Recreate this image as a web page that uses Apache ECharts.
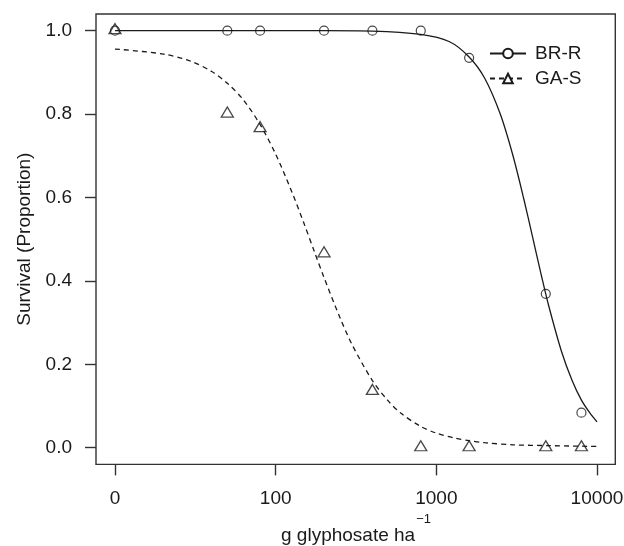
<!DOCTYPE html>
<html><head><meta charset="utf-8">
<script src="https://cdn.jsdelivr.net/npm/echarts@6/dist/echarts.min.js"></script>
<style>html,body{margin:0;padding:0;background:#fff}#c{width:624px;height:546px}</style>
</head><body><div id="c"></div>
<script>
// observed doses (g glyphosate / ha) and survival proportions
const doses = [0, 50, 80, 200, 400, 800, 1600, 4800, 8000];
const brR = [1, 1, 1, 1, 1, 1, 0.935, 0.369, 0.084];
const gaS = [1, 0.80, 0.765, 0.465, 0.135, 0, 0, 0, 0];

// fitted curves
const brCurveDose = [0, 50, 100, 200, 400, 800, 1200, 1600, 2000, 2500, 3000, 3500, 4000, 4500, 5000, 6000, 7000, 8000, 9000, 10000];
const brCurve = [1.0, 1.0, 1.0, 1.0, 0.999, 0.991, 0.974, 0.937, 0.886, 0.80, 0.70, 0.597, 0.50, 0.414, 0.341, 0.232, 0.161, 0.114, 0.084, 0.062];
const gaCurveDose = [0, 20, 30, 40, 50, 63, 80, 100, 125, 150, 175, 200, 250, 300, 400, 500, 600, 800, 1000, 1300, 1600, 2000, 3000, 5000, 10000];
const gaCurve = [0.956, 0.944, 0.926, 0.902, 0.874, 0.834, 0.775, 0.704, 0.617, 0.538, 0.468, 0.408, 0.314, 0.246, 0.161, 0.113, 0.083, 0.051, 0.035, 0.023, 0.017, 0.012, 0.007, 0.005, 0.003];

const seriesNames = ['BR-R', 'GA-S'];
const xTickValues = [10, 100, 1000, 10000];
const xTickLabels = ['0', '100', '1000', '10000'];
const yTickValues = [0, 0.2, 0.4, 0.6, 0.8, 1.0];
const ZERO_DOSE_POS = 10; // dose 0 is drawn at the first decade of the log axis

const pos = d => d === 0 ? ZERO_DOSE_POS : d;
const pairs = (xs, ys) => xs.map((x, i) => [pos(x), ys[i]]);

const FONT = "'Liberation Sans', Arial, sans-serif";
const INK = '#1a1a1a';
const FRAME = '#333';

const chart = echarts.init(document.getElementById('c'), null, {renderer: 'canvas'});
chart.setOption({
  animation: false,
  backgroundColor: '#fff',
  textStyle: {fontFamily: FONT},
  grid: [
    {left: 115, right: 27, top: 14, bottom: 81.6, show: false, containLabel: false, outerBoundsMode: 'none'},
    {left: 96, right: 8.7, top: 14, bottom: 81.6, show: true, containLabel: false, outerBoundsMode: 'none',
     borderColor: FRAME, borderWidth: 1.4, backgroundColor: 'transparent'}
  ],
  xAxis: [
    {
      gridIndex: 0, type: 'log', logBase: 10, min: 10, max: 10000,
      position: 'bottom',
      axisLine: {show: false, onZero: false},
      axisTick: {show: true, inside: false, length: 11, lineStyle: {color: FRAME, width: 1.4}},
      splitLine: {show: false},
      axisLabel: {
        fontFamily: FONT, fontSize: 19, color: INK, margin: 25,
        formatter: v => {
          const i = xTickValues.findIndex(t => Math.abs(Math.log10(t) - Math.log10(v)) < 1e-6);
          return i >= 0 ? xTickLabels[i] : '';
        }
      },
      name: '{a|g glyphosate ha}{sup|\u22121}',
      nameLocation: 'middle', nameGap: 38,
      nameTextStyle: {
        rich: {
          a: {fontFamily: FONT, fontSize: 19, color: INK},
          sup: {fontFamily: FONT, fontSize: 13, color: INK, padding: [0, 0, 32, 1]}
        }
      }
    },
    {gridIndex: 1, type: 'value', min: 0, max: 1, show: false}
  ],
  yAxis: [
    {gridIndex: 0, type: 'value', min: -0.04, max: 1.04, show: false},
    {
      gridIndex: 1, type: 'value', min: -0.04, max: 1.04,
      axisLine: {show: false},
      axisTick: {show: true, length: 11, customValues: yTickValues, lineStyle: {color: FRAME, width: 1.4}},
      splitLine: {show: false},
      axisLabel: {
        customValues: yTickValues,
        fontFamily: FONT, fontSize: 19, color: INK, margin: 24,
        formatter: v => v.toFixed(1)
      },
      name: 'Survival (Proportion)',
      nameLocation: 'middle', nameGap: 62,
      nameTextStyle: {fontFamily: FONT, fontSize: 19, color: INK}
    }
  ],
  legend: {
    orient: 'vertical', left: 489, top: 44, padding: 0,
    itemWidth: 36, itemHeight: 12, itemGap: 6,
    data: seriesNames,
    itemStyle: {borderWidth: 1},
    textStyle: {fontFamily: FONT, fontSize: 19, color: INK, lineHeight: 19, padding: [0, 0, 0, 4]}
  },
  series: [
    {
      name: seriesNames[0], type: 'line', xAxisIndex: 0, yAxisIndex: 0,
      data: pairs(brCurveDose, brCurve), smooth: 0.3,
      symbol: 'emptyCircle', symbolSize: 9, showSymbol: false,
      lineStyle: {color: INK, width: 1.3, type: 'solid'},
      itemStyle: {color: INK, borderColor: INK, borderWidth: 1},
      z: 2
    },
    {
      name: seriesNames[1], type: 'line', xAxisIndex: 0, yAxisIndex: 0,
      data: pairs(gaCurveDose, gaCurve), smooth: 0.3,
      symbol: 'emptyTriangle', symbolSize: 10, showSymbol: false,
      lineStyle: {color: INK, width: 1.3, type: [5, 4]},
      itemStyle: {color: INK, borderColor: INK, borderWidth: 1},
      z: 2
    },
    {
      name: seriesNames[0] + ' observed', type: 'scatter', xAxisIndex: 0, yAxisIndex: 0,
      data: pairs(doses, brR),
      symbol: 'circle', symbolSize: 9,
      itemStyle: {color: 'rgba(0,0,0,0)', borderColor: INK, borderWidth: 1.2},
      z: 3
    },
    {
      name: seriesNames[1] + ' observed', type: 'scatter', xAxisIndex: 0, yAxisIndex: 0,
      data: pairs(doses, gaS),
      symbol: 'triangle', symbolSize: [12, 10], symbolOffset: [0, -2],
      itemStyle: {color: 'rgba(0,0,0,0)', borderColor: INK, borderWidth: 1.3},
      z: 3
    }
  ]
});
</script>
</body></html>
